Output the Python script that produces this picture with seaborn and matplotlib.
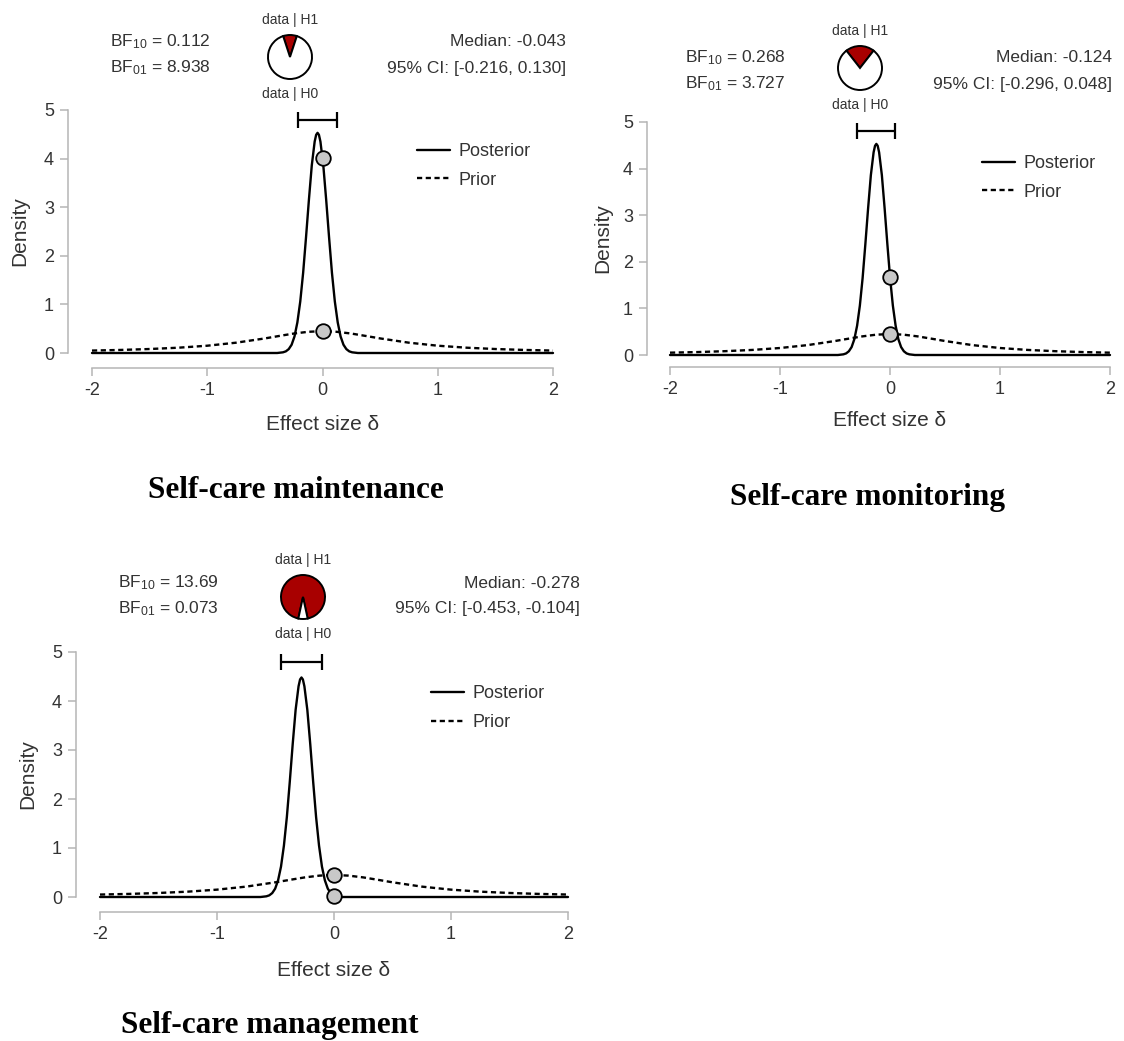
import pandas as pd
import seaborn as sns
import matplotlib.pyplot as plt
from matplotlib.lines import Line2D

# Values
titles = ["Self-care maintenance", "Self-care monitoring", "Self-care management"]
bf10_text = ["0.112", "0.268", "13.69"]
bf01_text = ["8.938", "3.727", "0.073"]
bf10 = [0.112, 0.268, 13.69]
medians = [-0.043, -0.124, -0.278]
ci_low = [-0.216, -0.296, -0.453]
ci_high = [0.130, 0.048, -0.104]

prior_x = [-2.0, -1.75, -1.5, -1.25, -1.0, -0.75, -0.5, -0.375, -0.25, -0.125, 0.0,
           0.125, 0.25, 0.375, 0.5, 0.75, 1.0, 1.25, 1.5, 1.75, 2.0]
prior_y = [0.050, 0.063, 0.082, 0.109, 0.150, 0.212, 0.300, 0.351, 0.400, 0.436, 0.450,
           0.436, 0.400, 0.351, 0.300, 0.212, 0.150, 0.109, 0.082, 0.063, 0.050]

post_x = [
    [-2.0, -0.393, -0.343, -0.318, -0.293, -0.268, -0.243, -0.218, -0.193, -0.168, -0.143,
     -0.118, -0.093, -0.068, -0.055, -0.043, -0.031, -0.018, 0.007, 0.032, 0.057, 0.082,
     0.107, 0.132, 0.157, 0.182, 0.207, 0.232, 0.257, 0.307, 2.0],
    [-2.0, -0.474, -0.424, -0.399, -0.374, -0.349, -0.324, -0.299, -0.274, -0.249, -0.224,
     -0.199, -0.174, -0.149, -0.136, -0.124, -0.112, -0.099, -0.074, -0.049, -0.024, 0.001,
     0.026, 0.051, 0.076, 0.101, 0.126, 0.151, 0.176, 0.226, 2.0],
    [-2.0, -0.628, -0.578, -0.553, -0.528, -0.503, -0.478, -0.453, -0.428, -0.403, -0.378,
     -0.353, -0.328, -0.303, -0.290, -0.278, -0.266, -0.253, -0.228, -0.203, -0.178, -0.153,
     -0.128, -0.103, -0.078, -0.053, -0.028, -0.003, 0.022, 0.072, 2.0],
]
post_y = [
    [0, 0, 0.014, 0.034, 0.08, 0.17, 0.34, 0.63, 1.06, 1.65, 2.38, 3.15, 3.86, 4.35, 4.49,
     4.53, 4.49, 4.35, 3.86, 3.15, 2.38, 1.65, 1.06, 0.63, 0.34, 0.17, 0.08, 0.034, 0.014,
     0, 0],
    [0, 0, 0.014, 0.034, 0.08, 0.17, 0.34, 0.63, 1.06, 1.65, 2.38, 3.15, 3.86, 4.35, 4.49,
     4.53, 4.49, 4.35, 3.86, 3.15, 2.38, 1.65, 1.06, 0.63, 0.34, 0.17, 0.08, 0.034, 0.014,
     0, 0],
    [0, 0, 0.014, 0.034, 0.08, 0.17, 0.34, 0.62, 1.05, 1.63, 2.35, 3.12, 3.82, 4.30, 4.44,
     4.48, 4.44, 4.30, 3.82, 3.12, 2.35, 1.63, 1.05, 0.62, 0.34, 0.17, 0.08, 0.034, 0.014,
     0, 0],
]
post_at_zero = [4.02, 1.67, 0.03]
prior_at_zero = [0.45, 0.45, 0.45]

sns.set_style("ticks")
plt.rcParams["font.family"] = ["Liberation Sans", "DejaVu Sans"]
plt.rcParams["mathtext.fontset"] = "custom"
plt.rcParams["mathtext.rm"] = "Liberation Sans"
plt.rcParams["mathtext.it"] = "Liberation Sans:italic"

W, H = 1124, 1041
fig = plt.figure(figsize=(W / 100, H / 100), dpi=100, facecolor="white")

def fx(px):
    return px / W

def fy(py):
    return 1 - py / H

# pixel layout of each panel: axes box (x=-2, x=2, y=5, y=0), text anchors
layout = [
    dict(L=92, R=553, T=110, B=353, bf_x=110, bf_y=42, pie=(290, 57), med_x=566,
         dens_x=20, eff_y=424, title=(296, 490), leg=(0.705, 0.77), off_l=24, off_b=15),
    dict(L=670, R=1110, T=122, B=355, bf_x=685, bf_y=58, pie=(860, 68), med_x=1112,
         dens_x=603, eff_y=420, title=(868, 497), leg=(0.71, 0.76), off_l=23, off_b=12),
    dict(L=100, R=568, T=652, B=897, bf_x=118, bf_y=583, pie=(303, 597), med_x=580,
         dens_x=28, eff_y=970, title=(270, 1025), leg=(0.708, 0.77), off_l=24, off_b=15),
]

grey = "#b5b5b5"
txt = "#333333"

for i, lay in enumerate(layout):
    L, R, T, B = lay["L"], lay["R"], lay["T"], lay["B"]
    ax = fig.add_axes([fx(L), fy(B), (R - L) / W, (B - T) / H])

    df = pd.concat([
        pd.DataFrame({"x": post_x[i], "y": post_y[i], "kind": "Posterior"}),
        pd.DataFrame({"x": prior_x, "y": prior_y, "kind": "Prior"}),
    ])
    sns.lineplot(data=df, x="x", y="y", style="kind",
                 dashes={"Posterior": "", "Prior": (2.2, 1.5)},
                 color="black", lw=1.7, estimator=None, sort=False,
                 legend=False, ax=ax, clip_on=False)

    # CI bar above the peak
    ax.errorbar(medians[i], 4.8, xerr=[[medians[i] - ci_low[i]], [ci_high[i] - medians[i]]],
                fmt="none", ecolor="black", elinewidth=1.6, capsize=6, capthick=1.6,
                clip_on=False)

    sns.scatterplot(x=[0, 0], y=[post_at_zero[i], prior_at_zero[i]], s=110,
                    color="#c8c8c8", edgecolor="black", linewidth=1.3, zorder=5,
                    ax=ax, clip_on=False)

    ax.set_xlim(-2, 2)
    ax.set_ylim(0, 5)
    ax.set_xticks([-2, -1, 0, 1, 2])
    ax.set_yticks([0, 1, 2, 3, 4, 5])
    ax.set_xticklabels(["-2", "-1", "0", "1", "2"])
    sns.despine(ax=ax)
    ax.spines["left"].set_position(("outward", lay["off_l"] * 0.72))
    ax.spines["bottom"].set_position(("outward", lay["off_b"] * 0.72))
    ax.spines["left"].set_bounds(0, 5)
    ax.spines["bottom"].set_bounds(-2, 2)
    for s in ["left", "bottom"]:
        ax.spines[s].set_color(grey)
        ax.spines[s].set_linewidth(1.1)
    ax.tick_params(colors=grey, labelcolor=txt, labelsize=13, length=6, width=1.1, pad=4)
    ax.patch.set_alpha(0)

    ax.set_xlabel("Effect size δ", fontsize=15, color=txt)
    ax.set_ylabel("Density", fontsize=15, color=txt)
    ax.xaxis.set_label_coords(0.5, (B - lay["eff_y"]) / (B - T))
    ax.xaxis.label.set_va("center")
    ax.yaxis.set_label_coords((lay["dens_x"] - L) / (R - L), 0.5)
    ax.yaxis.label.set_va("center")

    handles = [Line2D([], [], color="black", lw=1.7),
               Line2D([], [], color="black", lw=1.7, dashes=(2.2, 1.5))]
    ax.legend(handles, ["Posterior", "Prior"], loc="center left",
              bbox_to_anchor=lay["leg"], frameon=False, fontsize=13,
              handlelength=1.8, handletextpad=0.5, labelspacing=0.65,
              borderpad=0, borderaxespad=0, labelcolor=txt)

    # header: Bayes factors, pie, posterior summary
    fig.text(fx(lay["bf_x"]), fy(lay["bf_y"]), "BF$_{10}$ = " + bf10_text[i],
             fontsize=12.5, color=txt, va="center", ha="left")
    fig.text(fx(lay["bf_x"]), fy(lay["bf_y"] + 26), "BF$_{01}$ = " + bf01_text[i],
             fontsize=12.5, color=txt, va="center", ha="left")
    fig.text(fx(lay["med_x"]), fy(lay["bf_y"]), f"Median: {medians[i]:.3f}",
             fontsize=12.5, color=txt, va="center", ha="right")
    fig.text(fx(lay["med_x"]), fy(lay["bf_y"] + 26),
             f"95% CI: [{ci_low[i]:.3f}, {ci_high[i]:.3f}]",
             fontsize=12.5, color=txt, va="center", ha="right")

    cx, cy = lay["pie"]
    r = 22 * 1.1
    pax = fig.add_axes([fx(cx - r), fy(cy + r), 2 * r / W, 2 * r / H])
    p = bf10[i] / (1 + bf10[i])
    pax.pie([p, 1 - p], colors=["#a80000", "white"], startangle=90 - p * 180,
            wedgeprops=dict(edgecolor="black", linewidth=1.4))
    pax.set_xlim(-1.1, 1.1)
    pax.set_ylim(-1.1, 1.1)
    pax.set_aspect("equal")
    pax.axis("off")
    fig.text(fx(cx), fy(cy - 37), "data | H1", fontsize=10, color=txt,
             ha="center", va="center")
    fig.text(fx(cx), fy(cy + 37), "data | H0", fontsize=10, color=txt,
             ha="center", va="center")

    tx, ty = lay["title"]
    fig.text(fx(tx), fy(ty), titles[i], fontsize=22.5, fontweight="bold",
             family=["Liberation Serif", "DejaVu Serif"], color="black",
             ha="center", va="center")

fig.savefig("out.png", dpi=100, facecolor="white")
